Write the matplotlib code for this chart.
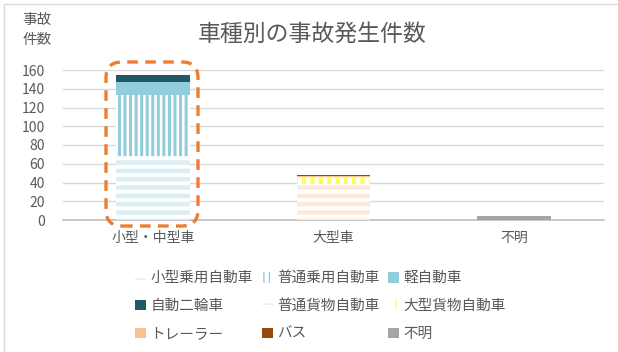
import matplotlib
matplotlib.use("Agg")
import matplotlib.pyplot as plt
from matplotlib.patches import FancyBboxPatch, Rectangle
import numpy as np

plt.rcParams["font.family"] = ["Noto Sans CJK JP", "DejaVu Sans"]

categories = ["小型・中型車", "大型車", "不明"]
series_names = ["小型乗用自動車", "普通乗用自動車", "軽自動車", "自動二輪車",
                "普通貨物自動車", "大型貨物自動車", "トレーラー", "バス", "不明"]
series_values = [
    [68, 0, 0],   # 小型乗用自動車
    [65, 0, 0],   # 普通乗用自動車
    [14, 0, 0],   # 軽自動車
    [8, 0, 0],    # 自動二輪車
    [0, 38, 0],   # 普通貨物自動車
    [0, 8, 0],    # 大型貨物自動車
    [0, 1, 0],    # トレーラー
    [0, 1, 0],    # バス
    [0, 0, 4],    # 不明
]
y_ticks = [0, 20, 40, 60, 80, 100, 120, 140, 160]

# (face, stripe colour, hatch, hatch width)
styles = [
    ("white", "#DAEEF3", "--", 3.2),
    ("white", "#92CDDC", "|||", 2.2),
    ("#92CDDC", "#92CDDC", None, 0),
    ("#215868", "#215868", None, 0),
    ("white", "#FDE9D9", "--", 3.2),
    ("white", "#FFFF55", "||", 3.0),
    ("#FAC090", "#FAC090", None, 0),
    ("#984807", "#984807", None, 0),
    ("#A5A5A5", "#A5A5A5", None, 0),
]
text_color = "#595959"

fig = plt.figure(figsize=(6.18, 3.52), dpi=100)
ax = fig.add_axes([63/618, 132/352, 541/618, 150/352])

x = np.arange(len(categories))
bottom = np.zeros(len(categories))
handles = []
for name, vals, (face, stripe, hatch, hlw) in zip(series_names, series_values, styles):
    vals = np.array(vals, dtype=float)
    with plt.rc_context({"hatch.linewidth": hlw if hatch else 1.0}):
        bars = ax.bar(x, vals, 0.41, bottom=bottom, color=face,
                      edgecolor=stripe, linewidth=0, hatch=hatch,
                      label=name, zorder=3)
    if hatch:
        for p in bars:
            if hasattr(p, "set_hatch_linewidth"):
                p.set_hatch_linewidth(hlw)
    handles.append(bars)
    bottom += vals

ax.set_xlim(-0.5, 2.5)
ax.set_ylim(0, 160)
ax.set_yticks(y_ticks)
ax.set_xticks(x, categories)
ax.tick_params(axis="both", length=0, colors=text_color, labelsize=10)
ax.tick_params(axis="y", pad=13)
ax.tick_params(axis="x", pad=8)
for s in ["top", "right", "left"]:
    ax.spines[s].set_visible(False)
ax.spines["bottom"].set_color("#BFBFBF")
ax.spines["bottom"].set_linewidth(1.2)
ax.grid(axis="y", color="#D9D9D9", linewidth=1, zorder=0)
ax.set_axisbelow(True)

fig.text(312/618, 1 - 34/352, "車種別の事故発生件数", ha="center", va="center",
         fontsize=16.5, color=text_color)
fig.text(37/618, 1 - 30/352, "事故\n件数", ha="center", va="center",
         fontsize=10.5, color=text_color, linespacing=1.6)

# highlight box around the first bar
box = FancyBboxPatch((1.06, 1.26), 0.92, 1.64,
                     boxstyle="round,pad=0,rounding_size=0.16",
                     transform=fig.dpi_scale_trans, fill=False,
                     edgecolor="#ED7D31", linewidth=2.4,
                     linestyle=(0, (3.2, 2.2)), zorder=5)
fig.add_artist(box)

# chart frame (left and top edges visible)
frame = Rectangle((4/618, -0.1), 1.1, 1 - 4/352 + 0.1,
                  transform=fig.transFigure, fill=False,
                  edgecolor="#D9D9D9", linewidth=1)
fig.add_artist(frame)

order = [0, 3, 6, 1, 4, 7, 2, 5, 8]
leg = fig.legend([handles[i] for i in order], [series_names[i] for i in order],
                 ncol=3, loc="upper left", bbox_to_anchor=(128/618, 1 - 264/352),
                 frameon=False, fontsize=10.5, labelcolor=text_color,
                 handlelength=0.75, handleheight=0.75, handletextpad=0.3,
                 columnspacing=0.6, labelspacing=0.95, borderpad=0)

fig.savefig("out.png", dpi=100)
